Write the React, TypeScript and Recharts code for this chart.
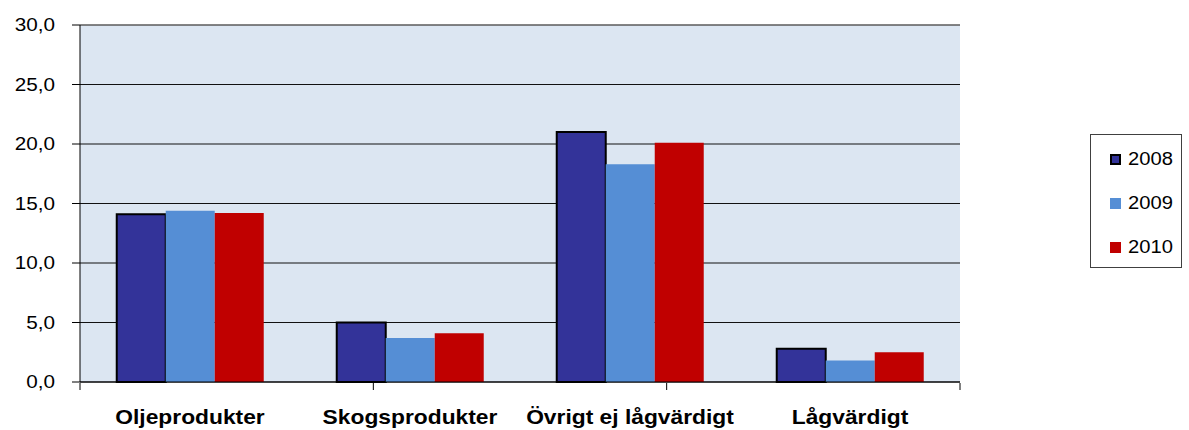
import React from "react";
import { BarChart, Bar, XAxis, YAxis, CartesianGrid, ReferenceLine } from "recharts";

const categories = ["Oljeprodukter", "Skogsprodukter", "Övrigt ej lågvärdigt", "Lågvärdigt"];
const values2008 = [14.1, 5.0, 21.0, 2.8];
const values2009 = [14.4, 3.7, 18.3, 1.8];
const values2010 = [14.2, 4.1, 20.1, 2.5];
const yTicks = [0, 5, 10, 15, 20, 25, 30];
const seriesNames = ["2008", "2009", "2010"];
const seriesColors = ["#333399", "#558ED5", "#C00000"];

const data = categories.map((c, i) => ({
  name: c,
  y2008: values2008[i],
  y2009: values2009[i],
  y2010: values2010[i],
}));

const FONT = "'Liberation Sans', Arial, sans-serif";

const fmt = (v: number) => v.toFixed(1).replace(".", ",");

const YTick = (props: any) => {
  const { x, y, payload } = props;
  return (
    <text
      x={0}
      y={0}
      transform={`translate(${x},${y}) scale(1.15,1)`}
      textAnchor="end"
      dy="0.36em"
      fontSize={18}
      fontFamily={FONT}
      fill="#000"
    >
      {fmt(payload.value)}
    </text>
  );
};

const XTick = (props: any) => {
  const { x, y, payload } = props;
  return (
    <text
      x={0}
      y={0}
      transform={`translate(${x},${y}) scale(1.14,1)`}
      textAnchor="middle"
      dy={42}
      fontSize={20}
      fontWeight="bold"
      fontFamily={FONT}
      fill="#000"
    >
      {payload.value}
    </text>
  );
};

const EmptyTick = () => <g />;

export default function App() {
  return (
    <div style={{ position: "absolute", left: 0, top: 0, width: 1189, height: 430, background: "#fff" }}>
      <BarChart
        width={1189}
        height={430}
        data={data}
        margin={{ top: 25, right: 229, left: 0, bottom: 0 }}
        barCategoryGap="16.7%"
        barGap={0}
      >
        <CartesianGrid vertical={false} fill="#DCE6F2" stroke="#111" strokeOpacity={1} />
        <XAxis
          xAxisId="cat"
          dataKey="name"
          height={1}
          tickLine={false}
          tickSize={0}
          tickMargin={0}
          axisLine={{ stroke: "#000" }}
          tick={<XTick />}
          interval={0}
        />
        <XAxis
          xAxisId="num"
          type="number"
          domain={[0, 4]}
          ticks={[0, 1, 2, 3, 4]}
          interval={0}
          allowDataOverflow
          height={47}
          tick={<EmptyTick />}
          axisLine={false}
          tickSize={7}
          tickLine={{ stroke: "#000" }}
        />
        <YAxis
          width={80}
          domain={[0, 30]}
          ticks={yTicks}
          tickSize={8}
          tickMargin={17}
          axisLine={{ stroke: "#000" }}
          tickLine={{ stroke: "#000" }}
          tick={<YTick />}
        />
        <ReferenceLine y={30} xAxisId="cat" stroke="#808080" />
        <ReferenceLine x={4} xAxisId="num" stroke="#808080" />
        <Bar dataKey="y2008" xAxisId="cat" fill={seriesColors[0]} stroke="#000" strokeWidth={2} isAnimationActive={false} />
        <Bar dataKey="y2009" xAxisId="cat" fill={seriesColors[1]} isAnimationActive={false} />
        <Bar dataKey="y2010" xAxisId="cat" fill={seriesColors[2]} isAnimationActive={false} />
      </BarChart>
      <div
        style={{
          position: "absolute",
          left: 1090,
          top: 134,
          width: 92,
          height: 134,
          boxSizing: "border-box",
          border: "1px solid #404040",
          fontFamily: FONT,
        }}
      >
        {seriesNames.map((n, i) => (
          <div
            key={n}
            style={{
              position: "absolute",
              left: 19,
              top: 12 + i * 44,
              height: 24,
              display: "flex",
              alignItems: "center",
            }}
          >
            <div
              style={{
                width: 11,
                height: 11,
                boxSizing: "border-box",
                background: seriesColors[i],
                border: i === 0 ? "2px solid #000" : "none",
                marginRight: 7,
              }}
            />
            <span style={{ fontSize: 18, color: "#000", display: "inline-block", transform: "scale(1.12,1)", transformOrigin: "left center" }}>{n}</span>
          </div>
        ))}
      </div>
    </div>
  );
}
